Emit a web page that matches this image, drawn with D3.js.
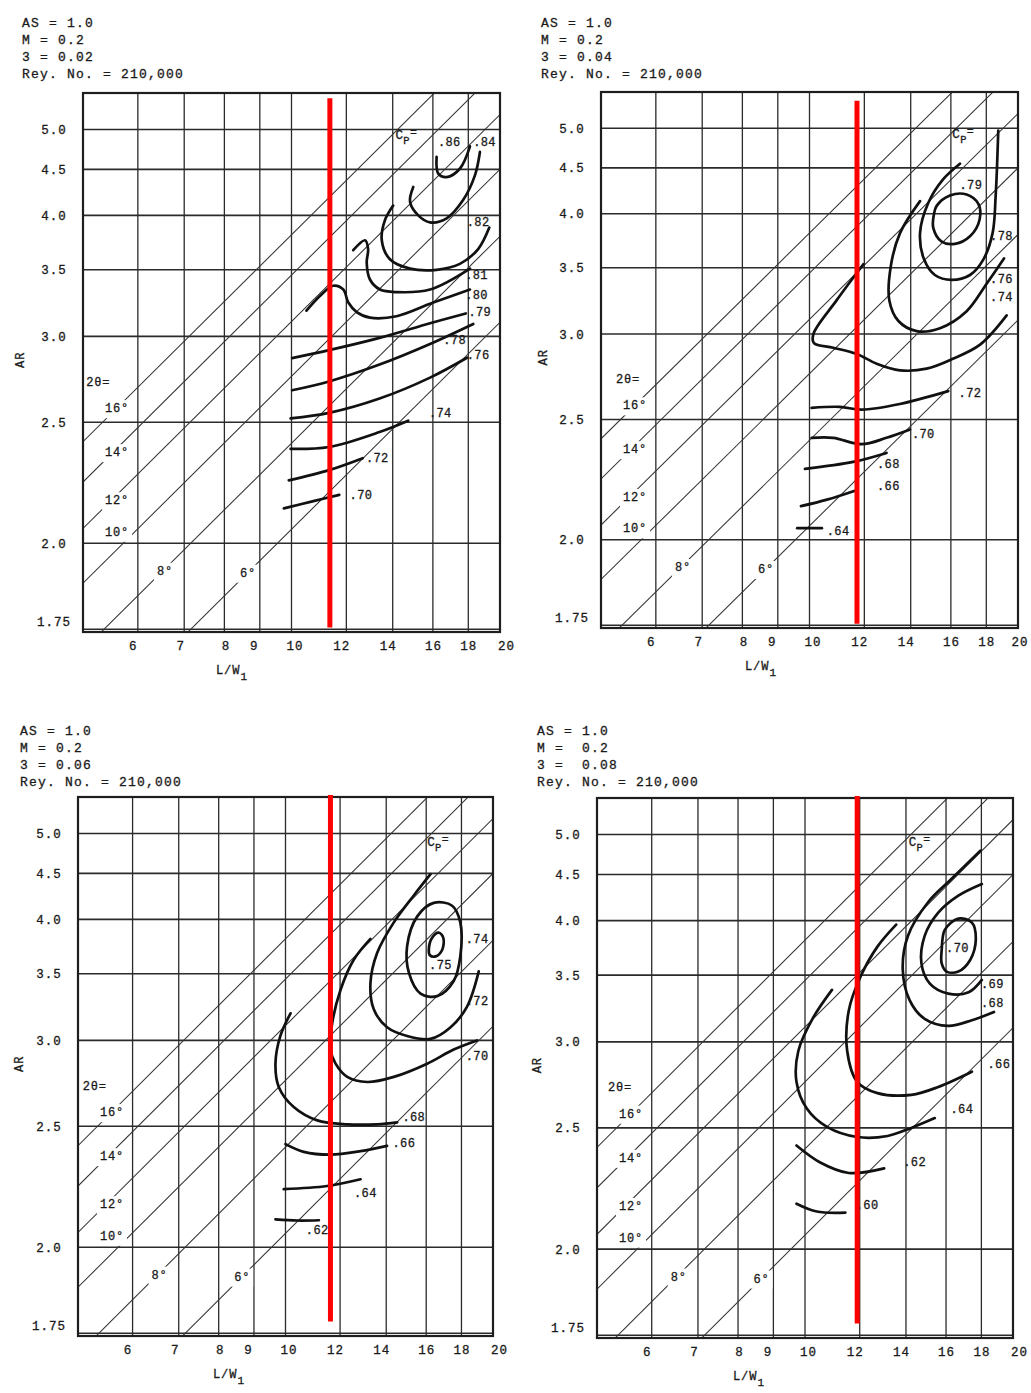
<!DOCTYPE html>
<html><head><meta charset="utf-8">
<script src="https://cdn.jsdelivr.net/npm/d3@7"></script>
<style>
html,body{margin:0;padding:0;background:#fff;}
svg{display:block;}
text{font-family:"Liberation Mono","DejaVu Sans Mono",monospace;fill:#1a1a1a;stroke:#1a1a1a;stroke-width:0.3px;}
.hdr{font-size:13px;letter-spacing:1.2px;white-space:pre;}
.tick text{font-size:12.5px;letter-spacing:1px;}
.ttl{font-size:12px;letter-spacing:1px;}
.cl{font-size:12px;letter-spacing:0.4px;}
.th{font-size:12px;letter-spacing:0.8px;}
</style></head><body>
<svg id="c" width="1031" height="1393"></svg>
<script>
// ---------------- DATA ----------------
const xTickValues = [6,7,8,9,10,12,14,16,18,20];
const xTickLabels = ["6","7","8","9","10","12","14","16","18","20"];
const yTickValues = [1.75,2.0,2.5,3.0,3.5,4.0,4.5,5.0];
const yTickLabels = ["1.75","2.0","2.5","3.0","3.5","4.0","4.5","5.0"];
const lwDomain = [5,20];
const arDomain = [1.743,5.52];

// diffuser full angles 2θ (deg) : AR = 1 + 2 tanθ · L/W1
const twoThetaAngles = [16,14,12,10,8,6];
const twoThetaLabels = ["16°","14°","12°","10°","8°","6°"];
const twoThetaLabelAt = [[5.6,2.574],[5.6,2.358],[5.6,2.156],[5.6,2.04],[6.565,1.913],[8.652,1.907]];
const twoThetaTitleAt = [[5.26,2.72],[5.47,2.72],[5.29,2.72],[5.4,2.72]];

const headers = [
  ["AS = 1.0","M = 0.2","3 = 0.02","Rey. No. = 210,000"],
  ["AS = 1.0","M = 0.2","3 = 0.04","Rey. No. = 210,000"],
  ["AS = 1.0","M = 0.2","3 = 0.06","Rey. No. = 210,000"],
  ["AS = 1.0","M =  0.2","3 =  0.08","Rey. No. = 210,000"]
];

// Cp contours, points are [L/W1, AR]
const p1Contours = [
  {cp:".86", closed:false, pts:[[16.2,4.65],[16.29,4.45],[16.75,4.41],[17.51,4.51],[18.1,4.78]]},
  {cp:".84", closed:false, pts:[[14.99,4.30],[14.83,4.14],[15.24,4.00],[15.85,3.93],[16.75,3.97],[17.7,4.16],[18.4,4.43],[18.71,4.71]]},
  {cp:".82", closed:false, pts:[[14.02,4.10],[13.64,3.95],[13.5,3.76],[13.87,3.59],[14.83,3.51],[16.2,3.50],[17.5,3.55],[18.6,3.68],[19.3,3.88]]},
  {cp:".81", closed:false, pts:[[12.28,3.67],[12.77,3.76],[12.9,3.68],[12.84,3.56],[12.98,3.42],[13.42,3.34],[14.18,3.32],[15.85,3.34],[18.1,3.51]]},
  {cp:".80", closed:false, pts:[[10.51,3.18],[10.99,3.29],[11.49,3.37],[11.88,3.34],[12.08,3.24],[12.42,3.17],[12.98,3.13],[14.18,3.14],[16.02,3.24],[18.1,3.34]]},
  {cp:".79", closed:false, pts:[[10.02,2.86],[11.33,2.91],[13.4,2.99],[15.85,3.09],[17.85,3.16]]},
  {cp:".78", closed:false, pts:[[10.02,2.67],[11.33,2.72],[13.4,2.82],[15.85,2.95],[18.3,3.085]]},
  {cp:".76", closed:false, pts:[[9.97,2.52],[11.33,2.548],[13.4,2.624],[15.85,2.742],[17.92,2.862]]},
  {cp:".74", closed:false, pts:[[9.97,2.372],[11.33,2.381],[13.4,2.452],[14.74,2.508]]},
  {cp:".72", closed:false, pts:[[9.91,2.235],[11.33,2.278],[12.67,2.33]]},
  {cp:".70", closed:false, pts:[[9.75,2.124],[10.72,2.151],[11.72,2.176]]}
];
const p1Labels = [[".86",16.9,4.84],[".84",19.0,4.84],[".82",18.6,3.94],[".81",18.5,3.46],[".80",18.5,3.30],[".79",18.7,3.17],[".78",17.2,2.98],[".76",18.6,2.88],[".74",16.4,2.55],[".72",13.3,2.33],[".70",12.6,2.175]];

const p2Contours = [
  {cp:".64", closed:false, pts:[[9.6,2.04],[10.42,2.04]]},
  {cp:".66", closed:false, pts:[[9.72,2.12],[10.6,2.145],[11.63,2.18]]},
  {cp:".68", closed:false, pts:[[9.85,2.27],[11.56,2.30],[12.92,2.34]]},
  {cp:".70", closed:false, pts:[[10.07,2.41],[10.82,2.41],[11.89,2.38],[12.92,2.41],[13.97,2.45]]},
  {cp:".72", closed:false, pts:[[10.07,2.56],[11.06,2.565],[11.89,2.55],[13.5,2.58],[15.86,2.65]]},
  {cp:".74", closed:false, pts:[[11.96,3.53],[10.94,3.24],[10.13,3.0],[10.15,2.94],[10.82,2.91],[11.70,2.87],[12.5,2.81],[13.51,2.77],[14.76,2.78],[16.1,2.84],[17.63,2.93],[19.26,3.13]]},
  {cp:".76", closed:false, pts:[[14.44,4.13],[13.51,3.81],[13.1,3.51],[13.04,3.24],[13.44,3.09],[14.28,3.02],[15.43,3.04],[16.86,3.16],[18.02,3.37],[19.09,3.58]]},
  {cp:".78", closed:false, pts:[[16.49,4.55],[15.6,4.37],[14.84,4.11],[14.44,3.81],[14.64,3.57],[15.17,3.44],[16.04,3.40],[17.05,3.44],[17.82,3.57],[18.38,3.81],[18.57,4.19],[18.73,4.97]]},
  {cp:".79", closed:true, pts:[[15.26,4.08],[15.95,4.19],[16.86,4.20],[17.53,4.10],[17.6,3.94],[17.05,3.78],[16.22,3.71],[15.52,3.73],[15.09,3.86],[15.12,3.99]]}
];
const p2Labels = [[".79",17.1,4.31],[".78",18.93,3.78],[".76",18.93,3.41],[".74",18.93,3.27],[".72",17.05,2.64],[".70",14.6,2.43],[".68",13.0,2.29],[".66",13.0,2.20],[".64",11.0,2.03]];

const p3Contours = [
  {cp:".62", closed:false, pts:[[9.67,2.098],[10.4,2.094],[11.18,2.095]]},
  {cp:".64", closed:false, pts:[[9.94,2.215],[11.49,2.228],[12.85,2.256]]},
  {cp:".66", closed:false, pts:[[10.0,2.413],[10.63,2.377],[11.62,2.364],[12.85,2.38],[14.04,2.405]]},
  {cp:".68", closed:false, pts:[[10.17,3.19],[9.83,3.03],[9.67,2.85],[9.78,2.71],[10.28,2.60],[11.12,2.53],[12.29,2.51],[13.58,2.51],[14.52,2.52]]},
  {cp:".70", closed:false, pts:[[13.28,3.81],[12.56,3.62],[12.02,3.37],[11.69,3.12],[11.62,2.94],[11.82,2.85],[12.29,2.77],[13.14,2.74],[14.36,2.77],[16.05,2.85],[17.54,2.94],[18.96,3.0]]},
  {cp:".72", closed:false, pts:[[16.23,4.49],[15.35,4.25],[14.36,3.97],[13.58,3.68],[13.28,3.42],[13.43,3.22],[14.04,3.09],[15.01,3.03],[16.23,3.01],[17.36,3.09],[18.34,3.24],[19.07,3.52]]},
  {cp:".74", closed:true, pts:[[15.01,3.74],[15.53,4.03],[16.41,4.17],[17.45,4.14],[17.93,3.97],[17.93,3.65],[17.54,3.44],[16.6,3.32],[15.7,3.34],[15.1,3.51]]},
  {cp:".75", closed:true, pts:[[16.14,3.71],[16.32,3.82],[16.68,3.87],[16.94,3.82],[16.88,3.71],[16.51,3.65],[16.2,3.66]]}
];
const p3Labels = [[".74",18.97,3.81],[".75",16.78,3.58],[".72",18.97,3.28],[".70",18.97,2.90],[".68",15.35,2.55],[".66",14.85,2.42],[".64",13.06,2.20],[".62",11.12,2.06]];

const p4Contours = [
  {cp:".60", closed:false, pts:[[9.72,2.164],[10.4,2.134],[11.44,2.13]]},
  {cp:".62", closed:false, pts:[[9.72,2.414],[10.52,2.336],[11.57,2.29],[13.02,2.31]]},
  {cp:".64", closed:false, pts:[[10.94,3.38],[10.28,3.17],[9.78,2.94],[9.72,2.75],[10.06,2.60],[10.76,2.505],[11.9,2.455],[13.17,2.46],[14.25,2.50],[15.41,2.55]]},
  {cp:".66", closed:false, pts:[[13.55,3.96],[12.73,3.75],[12.04,3.49],[11.57,3.22],[11.51,2.94],[11.9,2.75],[12.73,2.685],[14.25,2.675],[15.59,2.72],[17.44,2.81]]},
  {cp:".68", closed:false, pts:[[17.94,4.79],[16.3,4.45],[15.07,4.19],[14.09,3.85],[13.85,3.55],[14.17,3.30],[14.9,3.16],[16.12,3.11],[17.44,3.15],[18.77,3.21]]},
  {cp:".69", closed:false, pts:[[18.03,4.39],[16.67,4.26],[15.59,4.08],[14.9,3.85],[14.74,3.60],[15.16,3.43],[16.12,3.35],[17.25,3.36],[18.03,3.46]]},
  {cp:".70", closed:true, pts:[[15.77,3.72],[15.94,3.91],[16.67,4.02],[17.44,3.98],[17.67,3.82],[17.34,3.63],[16.67,3.53],[16.03,3.53],[15.77,3.60]]}
];
const p4Labels = [[".70",16.62,3.74],[".69",18.67,3.43],[".68",18.67,3.28],[".66",19.08,2.86],[".64",16.87,2.60],[".62",14.41,2.34],[".60",12.3,2.16]];

const cpTitleAt = [[14.65,4.88],[16.67,4.87],[16.65,4.84],[14.65,4.85]];
const redLineL = [11.36,11.71,11.62,11.9];
const redLineAR = [[1.754,5.44],[1.754,5.39],[1.78,5.55],[1.78,5.55]];

const panelContours = [p1Contours,p2Contours,p3Contours,p4Contours];
const panelLabels = [p1Labels,p2Labels,p3Labels,p4Labels];

// ---------------- LAYOUT ----------------
const layout = [
  {x0:83, x1:500, y0:93, y1:632, hx:22, hy:22, arX:20, lwX:232},
  {x0:601,x1:1018,y0:92, y1:628, hx:541,hy:22, arX:543,lwX:761},
  {x0:78, x1:493, y0:797,y1:1336,hx:20, hy:730,arX:19, lwX:229},
  {x0:597,x1:1013,y0:798,y1:1338,hx:537,hy:730,arX:537,lwX:749}
];
const xTickNudge = [-5,-4,1,-6,3,-5,-5,0,0,6];
const W = 1031;

const svg = d3.select("#c");
svg.append("rect").attr("width",W).attr("height",1393).attr("fill","#fff");
const defs = svg.append("defs");

layout.forEach((lay,i)=>{
  const g = svg.append("g");
  const x = d3.scaleLog().domain(lwDomain).range([lay.x0,lay.x1]);
  const yLog = d3.scaleLog().domain(arDomain.map(a=>a-1)).range([lay.y1,lay.y0]);
  const y = ar => yLog(ar-1);

  // header
  g.append("g").selectAll("text").data(headers[i]).join("text")
    .attr("class","hdr").attr("x",lay.hx).attr("y",(d,j)=>lay.hy + j*17 + 5).text(d=>d);

  const cid = "clip"+i;
  defs.append("clipPath").attr("id",cid).append("rect")
    .attr("x",lay.x0).attr("y",lay.y0).attr("width",lay.x1-lay.x0).attr("height",lay.y1-lay.y0);

  // grid
  const grid = g.append("g").attr("stroke","#2b2b2b").attr("stroke-width",1.3);
  grid.selectAll("line.v").data(xTickValues.filter(v=>v<lwDomain[1])).join("line")
    .attr("class","v").attr("x1",d=>x(d)).attr("x2",d=>x(d)).attr("y1",lay.y0).attr("y2",lay.y1);
  grid.selectAll("line.h").data(yTickValues).join("line")
    .attr("class","h").attr("x1",lay.x0).attr("x2",lay.x1).attr("y1",d=>y(d)).attr("y2",d=>y(d))
    .attr("stroke-width",1.6);

  // diagonal 2θ lines
  const slope = a => 2*Math.tan(a/2*Math.PI/180);
  const dg = g.append("g").attr("clip-path",`url(#${cid})`).attr("stroke","#333").attr("stroke-width",1.05);
  dg.selectAll("line").data(twoThetaAngles).join("line")
    .attr("x1",x(lwDomain[0])).attr("y1",d=>yLog(slope(d)*lwDomain[0]))
    .attr("x2",x(lwDomain[1])).attr("y2",d=>yLog(slope(d)*lwDomain[1]));

  // 2θ labels with gaps
  const tl = g.append("g");
  twoThetaLabels.forEach((lab,j)=>{
    const [L,A] = twoThetaLabelAt[j];
    const t = tl.append("text").attr("class","th").attr("x",x(L)).attr("y",y(A)).attr("dy","0.35em")
      .attr("text-anchor","middle").text(lab);
    const b = t.node().getBBox();
    tl.insert("rect","text").attr("x",b.x-3).attr("y",b.y-2).attr("width",b.width+6).attr("height",b.height+4).attr("fill","#fff");
  });
  tl.append("text").attr("class","th").attr("x",x(twoThetaTitleAt[i][0])).attr("y",y(twoThetaTitleAt[i][1]))
    .attr("dy","0.35em").attr("text-anchor","middle").text("2θ=");

  // frame
  g.append("rect").attr("x",lay.x0).attr("y",lay.y0).attr("width",lay.x1-lay.x0).attr("height",lay.y1-lay.y0)
    .attr("fill","none").attr("stroke","#1e1e1e").attr("stroke-width",2.2);

  // axes
  const xa = g.append("g").attr("transform",`translate(0,${lay.y1})`)
    .call(d3.axisBottom(x).tickValues(xTickValues).tickFormat((d,j)=>xTickLabels[j]).tickSize(0).tickPadding(9));
  xa.select(".domain").remove();
  xa.selectAll("text").attr("dx",function(d,j){
    const half = this.getComputedTextLength()/2;
    return Math.min(xTickNudge[j], W - 3 - half - x(d));
  });
  const ya = g.append("g").attr("transform",`translate(${lay.x0},0)`)
    .call(d3.axisLeft(yLog).tickValues(yTickValues.map(v=>v-1)).tickFormat((d,j)=>yTickLabels[j]).tickSize(0));
  ya.select(".domain").remove();
  ya.selectAll("text").attr("text-anchor","middle").attr("x",-29)
    .attr("dy",(d,j)=> j===0 ? "-0.3em" : "0.32em");

  // axis titles
  g.append("text").attr("class","ttl").attr("transform",`translate(${lay.arX},${y(2.85)}) rotate(-90)`)
    .attr("text-anchor","middle").attr("dy","0.35em").text("AR");
  const lw = g.append("text").attr("class","ttl").attr("x",lay.lwX).attr("y",lay.y1+42).attr("text-anchor","middle");
  lw.append("tspan").text("L/W");
  lw.append("tspan").attr("dy",6).attr("font-size",11).text("1");

  // contours
  const open = d3.line().x(d=>x(d[0])).y(d=>y(d[1])).curve(d3.curveCatmullRom.alpha(0.5));
  const closed = d3.line().x(d=>x(d[0])).y(d=>y(d[1])).curve(d3.curveCatmullRomClosed.alpha(0.5));
  g.append("g").selectAll("path").data(panelContours[i]).join("path")
    .attr("d",d=>(d.closed?closed:open)(d.pts))
    .attr("fill","none").attr("stroke","#111").attr("stroke-width",2.7)
    .attr("stroke-linecap","round").attr("stroke-linejoin","round");

  // contour labels
  g.append("g").selectAll("text").data(panelLabels[i]).join("text")
    .attr("class","cl").attr("x",d=>x(d[1])).attr("y",d=>y(d[2])).attr("dy","0.35em")
    .attr("text-anchor","middle").text(d=>d[0]);

  // Cp title
  const cpt = g.append("text").attr("class","cl").attr("x",x(cpTitleAt[i][0])).attr("y",y(cpTitleAt[i][1]))
    .attr("text-anchor","middle");
  cpt.append("tspan").attr("font-size",12.5).text("C");
  cpt.append("tspan").attr("dy",5).attr("font-size",10.5).text("P");
  cpt.append("tspan").attr("dy",-8).attr("font-size",11.5).text("=");

  // red marker line
  g.append("line").attr("x1",x(redLineL[i])).attr("x2",x(redLineL[i]))
    .attr("y1",y(redLineAR[i][0])).attr("y2",y(redLineAR[i][1]))
    .attr("stroke","#ff0000").attr("stroke-width",5);
});
</script>
</body></html>
